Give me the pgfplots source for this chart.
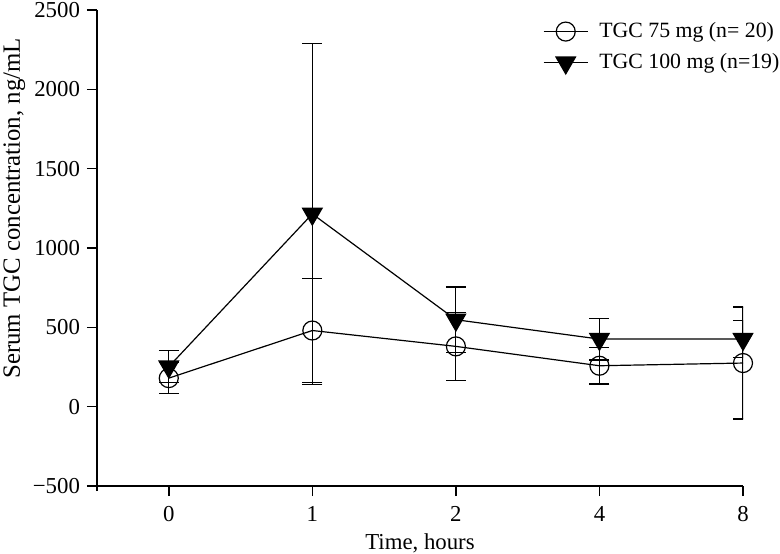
\documentclass[border=0pt]{standalone}
\usepackage{fontspec}
\setmainfont{Liberation Serif}
\usepackage{pgfplots}
\pgfplotsset{compat=1.18}
\begin{document}
\begin{tikzpicture}
\begin{axis}[
  scale only axis, width=323pt, height=238pt,
  xmin=-0.5, xmax=4, ymin=-500, ymax=2500,
  axis lines*=left,
  axis line style={line width=0.8pt, shorten <=-2.5pt},
  xtick={0,1,2,3,4}, xticklabels={0,1,2,4,8},
  ytick={-500,0,500,1000,1500,2000,2500},
  yticklabels={−500,0,500,1000,1500,2000,2500},
  tick align=outside, major tick length=5pt,
  tick style={line width=0.8pt, black},
  ticklabel style={font=\fontsize{11.4}{13}\selectfont},
  xticklabel style={yshift=-1.75pt},
  /pgf/number format/assume math mode=true,
  xlabel={Time, hours},
  ylabel={Serum TGC concentration, ng/mL},
  xlabel style={font=\fontsize{11.4}{13}\selectfont, yshift=1.2pt},
  ylabel style={font=\fontsize{12.4}{14}\selectfont, at={(ticklabel cs:0.5833)}},
  ylabel shift=-3pt,
  legend style={at={(rel axis cs:0.69,0.983)}, anchor=north west, draw=none, fill=none,
    font=\fontsize{10.9}{13}\selectfont, row sep=2.5pt, inner sep=0pt,
    /tikz/every odd column/.append style={column sep=3.5pt}},
  legend cell align=left,
  legend image code/.code={\draw[mark repeat=2,mark phase=2,#1] plot coordinates {(0pt,0pt) (11pt,0pt) (22pt,0pt)};},
]
\coordinate (O) at (rel axis cs:0,0);
\addplot[black, line width=0.6pt, mark=o, mark size=4.75pt, mark options={solid, line width=0.6pt},
  error bars/.cd, y dir=both, y explicit,
  error bar style={line width=0.6pt, black},
  error mark options={rotate=90, mark size=5pt, line width=0.6pt, black}]
  coordinates {
  (0,180) +- (0,97)
  (1,480) +- (0,328)
  (2,380) +- (0,214)
  (3,258) +- (0,115)
  (4,275) +- (0,353)
  };
\addlegendentry{TGC 75 mg (n= 20)}
\addplot[black, line width=0.6pt, mark=triangle*, mark size=5.6pt, mark options={solid, rotate=180, fill=black, line width=0.6pt},
  error bars/.cd, y dir=both, y explicit,
  error bar style={line width=0.6pt, black},
  error mark options={rotate=90, mark size=5pt, line width=0.6pt, black}]
  coordinates {
  (0,252) +- (0,100)
  (1,1215) +- (0,1075)
  (2,548) +- (0,206)
  (3,426) +- (0,132)
  (4,426) +- (0,115)
  };
\addlegendentry{TGC 100 mg (n=19)}
\end{axis}
\pgfresetboundingbox
\path ([shift={(-48.5pt,-33.5pt)}]O) rectangle ([shift={(341.5pt,243pt)}]O);
\end{tikzpicture}
\end{document}
